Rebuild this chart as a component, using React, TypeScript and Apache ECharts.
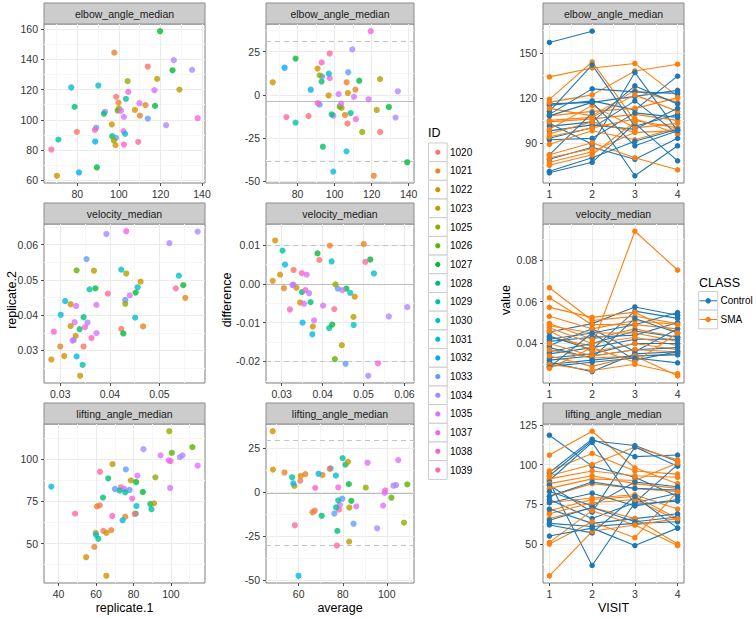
import React, { useEffect, useRef } from "react";
import * as echarts from "echarts";

const FONT = '"Liberation Sans", Arial, Helvetica, sans-serif';

const metricNames = ["elbow_angle_median", "velocity_median", "lifting_angle_median"];

const idLevels = ["1020", "1021", "1022", "1023", "1025", "1026", "1027", "1028", "1029", "1030", "1031", "1032", "1033", "1034", "1035", "1037", "1038", "1039"];
const idColors = ["#F8766D", "#E88526", "#D39200", "#B79F00", "#93AA00", "#5EB300", "#00BA38", "#00BF74", "#00C19F", "#00BFC4", "#00B9E3", "#00ACFC", "#619CFF", "#AC88FF", "#DB72FB", "#F564E3", "#FF61C3", "#FF699C"];

const classLevels = ["Control", "SMA"];
const classColors = ["#1F77B4", "#FF7F0E"];

// ---- replicate data: elbow_angle_median ----
const elbowId = ["1027", "1021", "1034", "1020", "1027", "1034", "1025", "1023", "1031", "1030", "1023", "1035", "1037", "1020", "1029", "1021", "1035", "1028", "1027", "1021", "1022", "1023", "1026", "1035", "1034", "1028", "1021", "1035", "1033", "1037", "1034", "1022", "1033", "1038", "1020", "1037", "1030", "1028", "1033", "1025", "1029", "1032", "1039", "1038", "1022", "1039", "1027", "1022", "1032"];
const elbowRep1 = [119.8, 97.8, 126.4, 113.9, 125.8, 135.2, 104.2, 118.4, 77.1, 90.1, 129.1, 117.1, 104.5, 98.7, 103.4, 99.8, 109.9, 78.7, 117.4, 112.8, 107.7, 100.0, 99.4, 101.0, 93.3, 92.8, 110.1, 102.4, 113.9, 137.9, 122.7, 96.6, 89.1, 88.5, 79.8, 102.2, 103.0, 96.8, 98.6, 97.6, 70.9, 88.6, 109.3, 102.4, 98.4, 67.5, 89.4, 70.2, 80.8];
const elbowRep2 = [158.7, 144.5, 139.5, 135.3, 132.8, 133.1, 125.6, 127.1, 121.4, 122.7, 120.0, 119.6, 118.5, 115.2, 113.9, 111.4, 111.0, 108.6, 109.2, 109.7, 106.6, 107.5, 106.1, 106.0, 105.3, 104.0, 102.8, 101.9, 100.8, 101.1, 96.4, 96.9, 94.7, 93.3, 92.0, 92.5, 90.7, 89.1, 88.0, 86.3, 86.9, 85.6, 85.4, 83.6, 83.2, 80.3, 68.4, 62.9, 65.1];

// ---- replicate data: velocity_median ----
const velocityId = ["1034", "1037", "1034", "1034", "1033", "1026", "1023", "1030", "1023", "1030", "1022", "1027", "1039", "1029", "1027", "1039", "1030", "1027", "1035", "1033", "1021", "1031", "1022", "1035", "1035", "1025", "1031", "1028", "1022", "1035", "1034", "1028", "1037", "1020", "1030", "1021", "1038", "1035", "1038", "1027", "1022", "1033", "1035", "1021", "1020", "1022", "1031", "1022", "1029", "1022"];
const velocityRep1 = [0.0393, 0.0433, 0.0577, 0.052, 0.0353, 0.0333, 0.0368, 0.0423, 0.0433, 0.0539, 0.0462, 0.0548, 0.0533, 0.0359, 0.0371, 0.0396, 0.0456, 0.0452, 0.044, 0.0431, 0.0552, 0.031, 0.0321, 0.0332, 0.0373, 0.0431, 0.0301, 0.0347, 0.0321, 0.0329, 0.0355, 0.0339, 0.035, 0.0423, 0.0451, 0.0467, 0.0287, 0.0373, 0.0363, 0.0427, 0.0331, 0.0327, 0.0325, 0.03, 0.0347, 0.0308, 0.0333, 0.0282, 0.0345, 0.034];
const velocityRep2 = [0.063, 0.0638, 0.0637, 0.0604, 0.0559, 0.0527, 0.0526, 0.0529, 0.0518, 0.0512, 0.0495, 0.0485, 0.0476, 0.0473, 0.0476, 0.0461, 0.0479, 0.0464, 0.0456, 0.0443, 0.0449, 0.044, 0.0431, 0.0426, 0.0429, 0.0432, 0.0401, 0.0394, 0.0369, 0.038, 0.0379, 0.036, 0.0366, 0.0361, 0.0393, 0.0368, 0.0353, 0.0349, 0.0335, 0.0348, 0.0341, 0.0329, 0.0328, 0.0311, 0.0311, 0.0284, 0.0283, 0.0274, 0.0259, 0.0228];

// ---- replicate data: lifting_angle_median ----
const liftingId = ["1025", "1026", "1026", "1034", "1035", "1034", "1034", "1035", "1037", "1035", "1023", "1039", "1033", "1035", "1025", "1028", "1023", "1027", "1039", "1033", "1035", "1029", "1033", "1029", "1027", "1028", "1037", "1035", "1028", "1023", "1029", "1030", "1020", "1021", "1039", "1029", "1020", "1038", "1021", "1031", "1020", "1021", "1022", "1023", "1031", "1029", "1021", "1022", "1022", "1031"];
const liftingRep1 = [99.1, 111.5, 100.5, 85.3, 94.5, 104.8, 106.2, 98.8, 99.8, 114.3, 68.8, 62.1, 75.9, 82.1, 91.7, 66.5, 78.6, 81.4, 73.3, 70.1, 75.0, 72.6, 77.9, 75.6, 85.0, 63.7, 79.3, 99.6, 89.0, 91.0, 89.6, 81.6, 62.0, 60.5, 48.8, 81.2, 80.7, 68.7, 75.6, 74.2, 63.9, 68.1, 65.5, 59.8, 60.0, 61.2, 59.1, 54.7, 65.5, 36.1];
const liftingRep2 = [116.5, 107.1, 103.7, 105.9, 102.2, 101.2, 102.2, 99.2, 98.8, 96.1, 97.0, 92.5, 93.9, 90.2, 89.2, 88.6, 87.4, 86.4, 83.3, 82.3, 82.3, 81.3, 81.7, 80.3, 80.5, 77.2, 76.6, 82.9, 73.4, 73.8, 70.3, 72.2, 72.6, 72.0, 67.7, 67.7, 67.5, 66.3, 65.9, 63.8, 57.5, 57.9, 56.3, 56.3, 55.1, 52.8, 48.0, 41.9, 30.9, 83.7];

// Bland-Altman reference lines (mean difference, upper / lower limits) per metric
const baMean = [-3.4, -0.003, -0.56];
const baUpper = [31.1, 0.0136, 29.2];
const baLower = [-38.1, -0.0197, -30.0];

// ---- longitudinal data: value at VISIT 1..4 per subject ----
const visits = [1, 2, 3, 4];
const elbowControl = [
  [157, 164.5, null, null], [116, 117, 121, 125], [115, 118, 112, 134.5], [111, 142, 101, 109],
  [109, 126, 124, 123], [103, 89, 137, 98], [101, 104, 128, 116], [98, 102, 99, 113],
  [93, 100, 118, 96], [92, 93, 110, 107], [82, 110, 68, 88], [79, 87, 79, 93],
  [71, 80, 91, 99], [70, 77, 103, 78], [108, 117, 88, 98],
];
const elbowSMA = [
  [134, 140, 143, 121], [119, 144, 105, 100], [117, 122, 138, 142.5], [113, 108, 125, 117],
  [108, 111, 113, 120], [105, 107, 122, 111], [104, 106, 109, 105], [99, 115, 100, 103],
  [96, 104, 97, 98], [94, 100, 106, 96], [89, 98, 92, 100], [82, 90, 80, 72],
  [77, 84, 97, null], [75, 82, 104, null], [80, 86, null, null],
];
const velocityControl = [
  [0.0455, 0.0495, 0.0575, 0.0535], [0.0435, 0.037, 0.0555, 0.052], [0.042, 0.045, 0.049, 0.0548],
  [0.041, 0.043, 0.044, 0.05], [0.039, 0.047, 0.036, 0.047], [0.038, 0.033, 0.052, 0.045],
  [0.036, 0.04, 0.046, 0.043], [0.035, 0.038, 0.042, 0.042], [0.033, 0.035, 0.04, 0.04],
  [0.032, 0.034, 0.037, 0.038], [0.031, 0.0265, 0.035, 0.036], [0.03, 0.032, 0.034, 0.0345],
  [0.029, 0.031, 0.033, 0.0307], [0.0285, 0.045, 0.032, 0.036],
];
const velocitySMA = [
  [0.043, 0.0387, 0.0938, 0.0752], [0.0667, 0.051, 0.053, 0.0495], [0.0619, 0.049, 0.049, 0.047],
  [0.0573, 0.0525, 0.055, 0.045], [0.053, 0.047, 0.051, 0.049], [0.0496, 0.042, 0.047, 0.043],
  [0.0485, 0.045, 0.045, 0.041], [0.0475, 0.04, 0.043, 0.039], [0.046, 0.036, 0.04, 0.037],
  [0.04, 0.034, 0.037, 0.036], [0.037, 0.033, 0.034, 0.035], [0.034, 0.029, 0.034, 0.0245],
  [0.03, 0.027, 0.03, 0.0255], [0.028, 0.038, 0.031, 0.045],
];
const liftingControl = [
  [118.5, 99, 92, 80], [95, 116, 105, 106], [93, 115, 112, 102], [90, 114, 75, 77],
  [89, 36.5, 76, 100], [87, 70, 111, 99], [83, 74, 89, 86], [80, 89, 85, 84],
  [78, 66, 76, 82], [76, 82, 74, 78], [72, 63, 66, 69], [65, 73, 64, 67],
  [63, 61, 63, 64], [62, 57, 80, 60], [55, 60, 49, 60],
];
const liftingSMA = [
  [106, 121, 98, 88], [96, 107, 96, 94], [93, 100, 111, 103], [91, 96, 93, 92],
  [88, 93, 88, 85], [85, 91, 90, 101], [80, 88, 85, 83], [76, 79, 81, 72],
  [71, 78, 80, 66], [69, 76, 78, 65], [66, 73, 66, 50], [51, 71, 62, 49],
  [50, 64, 54, 83], [30, 58, 62, 66],
];

// ---- tick breaks ----
const leftXTicks = [[80, 100, 120, 140], [0.03, 0.04, 0.05], [40, 60, 80, 100]];
const leftYTicks = [[60, 80, 100, 120, 140, 160], [0.03, 0.04, 0.05, 0.06], [50, 75, 100]];
const midXTicks = [[80, 100, 120, 140], [0.03, 0.04, 0.05, 0.06], [60, 80, 100]];
const midYTicks = [[-50, -25, 0, 25], [-0.02, -0.01, 0, 0.01], [-50, -25, 0, 25]];
const rightYTicks = [[90, 120, 150], [0.04, 0.06, 0.08], [50, 75, 100, 125]];
const visitTicks = [1, 2, 3, 4];
const decimals = [0, 2, 0];

const repData = [
  { id: elbowId, r1: elbowRep1, r2: elbowRep2 },
  { id: velocityId, r1: velocityRep1, r2: velocityRep2 },
  { id: liftingId, r1: liftingRep1, r2: liftingRep2 },
];
const longData = [
  { control: elbowControl, sma: elbowSMA },
  { control: velocityControl, sma: velocitySMA },
  { control: liftingControl, sma: liftingSMA },
];

// ---- layout ----
const COLS = [{ left: 44, width: 161 }, { left: 266, width: 148 }, { left: 543, width: 141 }];
const ROWS = [
  { stripTop: 3, top: 24, height: 159 },
  { stripTop: 203, top: 224, height: 159 },
  { stripTop: 403, top: 424, height: 159 },
];
const TICK_FONT = 10.5;
const TICK_COLOR = "#333333";

function limits(vals: number[]): [number, number] {
  const lo = Math.min(...vals);
  const hi = Math.max(...vals);
  const pad = (hi - lo) * 0.05;
  return [lo - pad, hi + pad];
}

function makeAxis(kind: "x" | "y", gridIndex: number, lim: [number, number], ticks: number[], dec: number) {
  const interval = Math.round((ticks[1] - ticks[0]) * 1e9) / 1e9;
  return {
    type: "value",
    gridIndex,
    min: lim[0],
    max: lim[1],
    minInterval: interval,
    maxInterval: interval,
    position: kind === "x" ? "bottom" : "left",
    axisLine: { show: false, onZero: false },
    axisTick: { show: true, inside: false, length: 3, customValues: ticks, lineStyle: { color: "#4d4d4d", width: 1 } },
    axisLabel: {
      show: true,
      customValues: ticks,
      formatter: (v: number) => Number(v).toFixed(dec),
      color: TICK_COLOR,
      fontSize: TICK_FONT,
      fontFamily: FONT,
      margin: kind === "x" ? 5 : 6,
    },
    splitLine: { show: true, lineStyle: { color: "#ebebeb", width: 1 } },
    minorTick: { show: false, splitNumber: 2 },
    minorSplitLine: { show: true, lineStyle: { color: "#f6f6f6", width: 1 } },
  };
}

function buildOption() {
  const grids: any[] = [];
  const xAxes: any[] = [];
  const yAxes: any[] = [];
  const series: any[] = [];
  const graphics: any[] = [];

  for (let r = 0; r < 3; r++) {
    for (let c = 0; c < 3; c++) {
      grids.push({
        left: COLS[c].left,
        top: ROWS[r].top,
        width: COLS[c].width,
        height: ROWS[r].height,
        show: true,
        borderColor: "#7f7f7f",
        borderWidth: 1,
        backgroundColor: "#ffffff",
        containLabel: false,
      });
      graphics.push({
        type: "rect",
        shape: { x: COLS[c].left, y: ROWS[r].stripTop, width: COLS[c].width, height: ROWS[r].top - ROWS[r].stripTop },
        style: { fill: "#cccccc", stroke: "#8c8c8c", lineWidth: 1 },
      });
      graphics.push({
        type: "text",
        x: COLS[c].left + COLS[c].width / 2,
        y: (ROWS[r].stripTop + ROWS[r].top) / 2 + 0.5,
        style: {
          text: metricNames[r],
          fill: "#1a1a1a",
          fontSize: 10.5,
          fontFamily: FONT,
          textAlign: "center",
          textVerticalAlign: "middle",
          verticalAlign: "middle",
        },
      });
    }
  }

  for (let r = 0; r < 3; r++) {
    const d = repData[r];
    // left: replicate.1 vs replicate.2
    const gL = r * 3;
    xAxes.push(makeAxis("x", gL, limits(d.r1), leftXTicks[r], decimals[r]));
    yAxes.push(makeAxis("y", gL, limits(d.r2), leftYTicks[r], decimals[r]));
    series.push({
      type: "scatter",
      xAxisIndex: gL,
      yAxisIndex: gL,
      symbolSize: 6.2,
      silent: true,
      z: 3,
      data: d.r1.map((v, i) => ({
        value: [v, d.r2[i]],
        itemStyle: { color: idColors[idLevels.indexOf(d.id[i])] },
      })),
    });

    // middle: average vs difference
    const gM = r * 3 + 1;
    const avg = d.r1.map((v, i) => (v + d.r2[i]) / 2);
    const diff = d.r1.map((v, i) => v - d.r2[i]);
    xAxes.push(makeAxis("x", gM, limits(avg), midXTicks[r], decimals[r]));
    yAxes.push(makeAxis("y", gM, limits([...diff, baMean[r], baUpper[r], baLower[r]]), midYTicks[r], decimals[r]));
    series.push({
      type: "scatter",
      xAxisIndex: gM,
      yAxisIndex: gM,
      symbolSize: 6.2,
      silent: true,
      z: 3,
      data: avg.map((v, i) => ({
        value: [v, diff[i]],
        itemStyle: { color: idColors[idLevels.indexOf(d.id[i])] },
      })),
      markLine: {
        silent: true,
        z: 2,
        symbol: ["none", "none"],
        label: { show: false },
        animation: false,
        lineStyle: { color: "#bdbdbd", width: 1 },
        data: [
          { yAxis: baMean[r], lineStyle: { type: "solid", color: "#bdbdbd", width: 1.2 } },
          { yAxis: baUpper[r], lineStyle: { type: [5, 4], color: "#c4c4c4", width: 1 } },
          { yAxis: baLower[r], lineStyle: { type: [5, 4], color: "#c4c4c4", width: 1 } },
        ],
      },
    });

    // right: value by VISIT
    const gR = r * 3 + 2;
    const ld = longData[r];
    const allVals: number[] = [];
    [...ld.control, ...ld.sma].forEach((row) => row.forEach((v) => { if (v != null) allVals.push(v as number); }));
    xAxes.push(makeAxis("x", gR, limits(visits), visitTicks, 0));
    yAxes.push(makeAxis("y", gR, limits(allVals), rightYTicks[r], decimals[r]));
    const n = Math.max(ld.control.length, ld.sma.length);
    for (let k = 0; k < n; k++) {
      [ld.control[k], ld.sma[k]].forEach((row, ci) => {
        if (!row) return;
        const pts: number[][] = [];
        row.forEach((v, j) => { if (v != null) pts.push([visits[j], v as number]); });
        series.push({
          type: "line",
          name: classLevels[ci],
          xAxisIndex: gR,
          yAxisIndex: gR,
          data: pts,
          symbol: "circle",
          symbolSize: 5.5,
          showSymbol: true,
          silent: true,
          z: 2,
          lineStyle: { width: 1.1, color: classColors[ci] },
          itemStyle: { color: classColors[ci] },
          emphasis: { disabled: true },
        });
      });
    }
  }

  // axis titles
  const titleStyle = { fill: "#000000", fontSize: 12.5, fontFamily: FONT, textAlign: "center", textVerticalAlign: "middle", verticalAlign: "middle" };
  const xTitles = ["replicate.1", "average", "VISIT"];
  const yTitles = ["replicate.2", "difference", "value"];
  const yTitleX = [11.5, 227, 506];
  for (let c = 0; c < 3; c++) {
    graphics.push({ type: "text", x: COLS[c].left + COLS[c].width / 2, y: 608, style: { ...titleStyle, text: xTitles[c] } });
    graphics.push({ type: "text", x: yTitleX[c], y: 300, rotation: Math.PI / 2, style: { ...titleStyle, text: yTitles[c] } });
  }

  // ID legend
  graphics.push({ type: "text", x: 428, y: 133, style: { ...titleStyle, textAlign: "left", text: "ID" } });
  const keyH = 18.69;
  idLevels.forEach((id, i) => {
    const cy = 152.3 + i * keyH;
    graphics.push({ type: "rect", shape: { x: 428.5, y: cy - keyH / 2, width: 18.7, height: keyH }, style: { fill: "#ffffff", stroke: "#cccccc", lineWidth: 1 } });
    graphics.push({ type: "circle", shape: { cx: 437.8, cy, r: 2.6 }, style: { fill: idColors[i] } });
    graphics.push({ type: "text", x: 450, y: cy, style: { text: id, fill: "#000000", fontSize: 10, fontFamily: FONT, textAlign: "left", textVerticalAlign: "middle", verticalAlign: "middle" } });
  });

  // CLASS legend
  graphics.push({ type: "text", x: 699, y: 283, style: { ...titleStyle, textAlign: "left", text: "CLASS" } });
  classLevels.forEach((cl, i) => {
    const cy = 300.8 + i * keyH;
    graphics.push({ type: "rect", shape: { x: 698.7, y: cy - keyH / 2, width: 19, height: keyH }, style: { fill: "#ffffff", stroke: "#cccccc", lineWidth: 1 } });
    graphics.push({ type: "line", shape: { x1: 699.5, y1: cy, x2: 717, y2: cy }, style: { stroke: classColors[i], lineWidth: 1 } });
    graphics.push({ type: "circle", shape: { cx: 708.2, cy, r: 2.7 }, style: { fill: classColors[i] } });
    graphics.push({ type: "text", x: 720.5, y: cy, style: { text: cl, fill: "#000000", fontSize: 10, fontFamily: FONT, textAlign: "left", textVerticalAlign: "middle", verticalAlign: "middle" } });
  });

  return {
    animation: false,
    backgroundColor: "#ffffff",
    textStyle: { fontFamily: FONT },
    grid: grids,
    xAxis: xAxes,
    yAxis: yAxes,
    series,
    graphic: { elements: graphics },
  };
}

export default function App() {
  const ref = useRef<HTMLDivElement>(null);
  useEffect(() => {
    if (!ref.current) return;
    const chart = echarts.init(ref.current, undefined, { renderer: "svg" });
    chart.setOption(buildOption() as any);
    return () => chart.dispose();
  }, []);
  return <div ref={ref} style={{ position: "absolute", left: 0, top: 0, width: 756, height: 618 }} />;
}
